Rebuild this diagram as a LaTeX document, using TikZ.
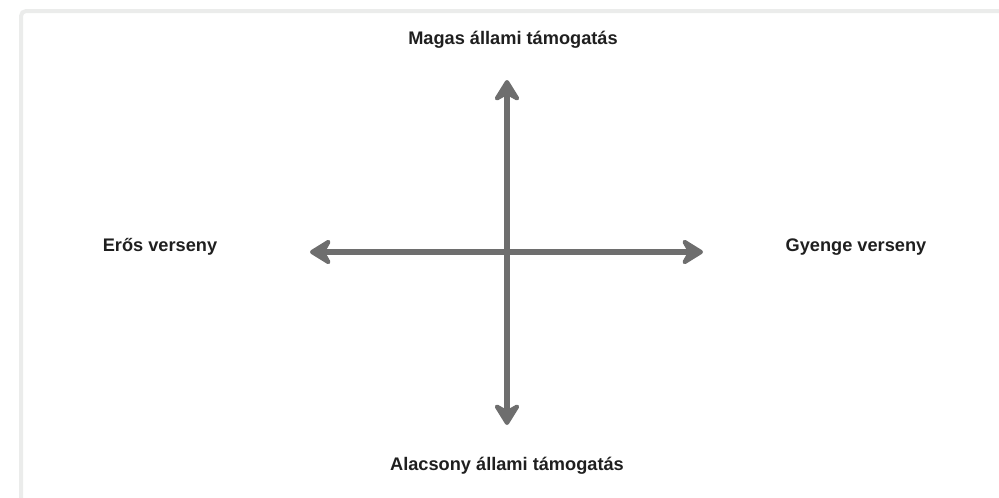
\documentclass[tikz,border=0pt]{standalone}
\usepackage{fontspec}
\setmainfont{Liberation Sans}
\usetikzlibrary{arrows.meta}
\definecolor{axisgray}{HTML}{6E6E6E}
\definecolor{framegray}{HTML}{EBECEB}
\begin{document}
\begin{tikzpicture}[x=1pt,y=-1pt,
  axis/.style={draw=axisgray,line width=5.5pt,
    {Stealth[length=26pt,width=32pt,inset=9pt,round]}-{Stealth[length=26pt,width=32pt,inset=9pt,round]}},
  label/.style={font=\fontsize{18.2pt}{22pt}\selectfont\bfseries,text=black!88,inner sep=0pt,anchor=base}]
  \useasboundingbox (0,0) rectangle (999,498);
  % page frame, running off the right and bottom edges
  \begin{scope}
    \clip (0,0) rectangle (999,498);
    \draw[framegray,line width=4pt,rounded corners=5pt] (21,11) rectangle (1020,520);
  \end{scope}
  % axis end points
  \coordinate (top) at (507,80);
  \coordinate (bottom) at (507,425);
  \coordinate (left) at (310,252);
  \coordinate (right) at (703,252);
  % axes
  \draw[axis] (left) -- (right);
  \draw[axis] (bottom) -- (top);
  % quadrant labels
  \node[label] (high) at (513,44) {Magas állami támogatás};
  \node[label] (low) at (507,470) {Alacsony állami támogatás};
  \node[label] (strong) at (160,251) {Erős verseny};
  \node[label] (weak) at (856,251) {Gyenge verseny};
\end{tikzpicture}
\end{document}
